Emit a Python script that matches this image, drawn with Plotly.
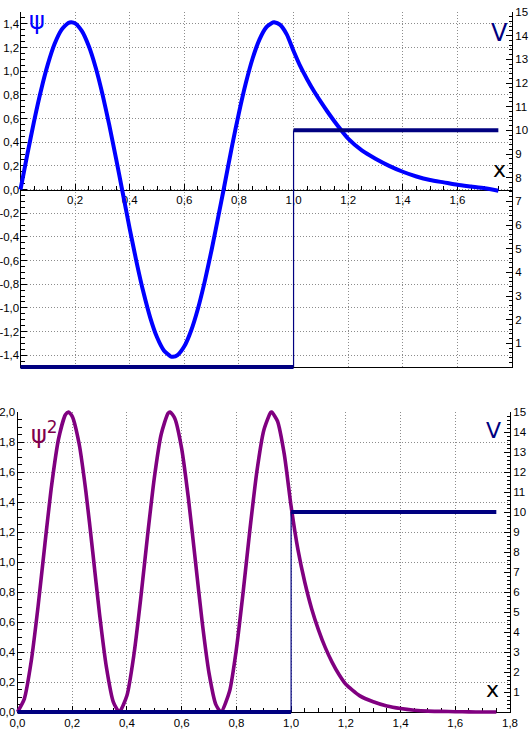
import plotly.graph_objects as go

# ---------------- data ----------------
x_vals = [0.0, 0.025, 0.05, 0.075, 0.1, 0.125, 0.15, 0.175, 0.186, 0.2, 0.225, 0.25, 0.275,
          0.3, 0.325, 0.35, 0.372, 0.4, 0.425, 0.45, 0.475, 0.5, 0.525, 0.55, 0.558, 0.575,
          0.6, 0.625, 0.65, 0.675, 0.7, 0.725, 0.744, 0.775, 0.8, 0.825, 0.85, 0.875,
          0.9, 0.925, 0.929, 0.95, 0.975, 1.0,
          1.025, 1.05, 1.075, 1.1, 1.125, 1.15, 1.175, 1.2,
          1.25, 1.3, 1.35, 1.4, 1.45, 1.5, 1.55, 1.6, 1.65, 1.7, 1.75]

psi_vals = [0.0, 0.296, 0.580, 0.837, 1.057, 1.231, 1.349, 1.408, 1.414, 1.404, 1.338, 1.212, 1.033,
            0.807, 0.546, 0.260, 0.0, -0.332, -0.613, -0.867, -1.082, -1.249, -1.360, -1.411, -1.414, -1.399,
            -1.325, -1.191, -1.005, -0.774, -0.509, -0.221, 0.0, 0.371, 0.648, 0.897, 1.107, 1.267,
            1.370, 1.413, 1.414, 1.393, 1.311, 1.171,
            1.04, 0.93, 0.83, 0.74, 0.655, 0.575, 0.50, 0.43,
            0.33, 0.26, 0.20, 0.15, 0.11, 0.08, 0.06, 0.04, 0.025, 0.01, -0.01]

psi2_vals = [0.0, 0.088, 0.336, 0.701, 1.117, 1.515, 1.820, 1.982, 2.0, 1.971, 1.790, 1.469, 1.067,
             0.651, 0.298, 0.068, 0.0, 0.110, 0.376, 0.752, 1.171, 1.560, 1.850, 1.991, 2.0, 1.957,
             1.756, 1.418, 1.010, 0.599, 0.259, 0.049, 0.0, 0.138, 0.420, 0.805, 1.225, 1.605,
             1.877, 1.997, 2.0, 1.940, 1.719, 1.371,
             1.082, 0.865, 0.689, 0.548, 0.429, 0.331, 0.250, 0.185,
             0.109, 0.068, 0.040, 0.023, 0.012, 0.006, 0.004, 0.002, 0.001, 0.0, 0.0]

# potential: V = 0 inside the well, V = 10 beyond the wall at x = 1
well_x = [0.0, 1.0]
well_v = [0, 0]
wall_x = [1.0, 1.0]
wall_v = [0, 10]
barrier_x = [1.0, 1.75]
barrier_v = [10, 10]

x_ticks_top = [0.2, 0.4, 0.6, 0.8, 1.0, 1.2, 1.4, 1.6]
x_ticks_top_text = ["0,2", "0,4", "0,6", "0,8", "1,0", "1,2", "1,4", "1,6"]
x_ticks_bot = [0.0, 0.2, 0.4, 0.6, 0.8, 1.0, 1.2, 1.4, 1.6, 1.8]
x_ticks_bot_text = ["0,0", "0,2", "0,4", "0,6", "0,8", "1,0", "1,2", "1,4", "1,6", "1,8"]
psi_ticks = [-1.4, -1.2, -1.0, -0.8, -0.6, -0.4, -0.2, 0.0, 0.2, 0.4, 0.6, 0.8, 1.0, 1.2, 1.4]
psi_ticks_text = ["-1,4", "-1,2", "-1,0", "-0,8", "-0,6", "-0,4", "-0,2", "0,0",
                  "0,2", "0,4", "0,6", "0,8", "1,0", "1,2", "1,4"]
psi2_ticks = [0.0, 0.2, 0.4, 0.6, 0.8, 1.0, 1.2, 1.4, 1.6, 1.8, 2.0]
psi2_ticks_text = ["0,0", "0,2", "0,4", "0,6", "0,8", "1,0", "1,2", "1,4", "1,6", "1,8", "2,0"]
v_ticks = [1, 2, 3, 4, 5, 6, 7, 8, 9, 10, 11, 12, 13, 14, 15]
v_ticks_text = [str(v) for v in v_ticks]

# ---------------- layout geometry (pixels) ----------------
W, H = 531, 734
P1 = dict(x0=20.5, x1=512.0, top=12.0, bot=367.0)
P2 = dict(x0=17.5, x1=510.0, top=412.0, bot=712.0)
PAD = 8.0
XR = [0.0, 1.8]
PSI_R = [-1.5, 1.5]
PSI2_R = [0.0, 2.0]
V_R = [0.0, 15.0]


def xdom(p, pad=0.0):
    return [(p["x0"] - pad) / W, (p["x1"] + pad) / W]


def ydom(p, pad=0.0):
    return [1 - (p["bot"] + pad) / H, 1 - (p["top"] - pad) / H]


def ext(r, npx, pad):
    per = (r[1] - r[0]) / npx
    return [r[0] - pad * per, r[1] + pad * per]


FONT = "Liberation Sans Narrow, Liberation Sans, Arial, sans-serif"
TICKFONT = dict(family=FONT, size=11.5, color="black")
GRID = dict(showgrid=True, gridcolor="#8c8c8c", gridwidth=1, griddash="1px,2px")
BLUE = "#0000ff"
NAVY = "#000080"
PURPLE = "#800080"


def vis_axis(**kw):
    d = dict(showline=True, linecolor="black", linewidth=1, ticks="inside", ticklen=6,
             tickcolor="black", tickwidth=1, tickfont=TICKFONT, zeroline=False,
             layer="below traces", fixedrange=True, tickmode="array", automargin=False)
    d.update(kw)
    return d


def hid_axis(**kw):
    d = dict(visible=False, showgrid=False, zeroline=False, fixedrange=True, automargin=False)
    d.update(kw)
    return d


fig = go.Figure()

# dummy traces so the visible axes form subplots
for xa, ya in [("x", "y"), ("x", "y2"), ("x5", "y"), ("x2", "y5"), ("x2", "y6")]:
    fig.add_trace(go.Scatter(x=[None], y=[None], xaxis=xa, yaxis=ya, showlegend=False,
                             hoverinfo="skip", mode="lines"))

# ---- panel 1 drawing (hidden, slightly extended axes so lines are not clipped) ----
fig.add_trace(go.Scatter(x=well_x, y=well_v, xaxis="x3", yaxis="y4", mode="lines",
                         line=dict(color=NAVY, width=4), showlegend=False))
fig.add_trace(go.Scatter(x=wall_x, y=wall_v, xaxis="x3", yaxis="y4", mode="lines",
                         line=dict(color=NAVY, width=1.2), showlegend=False))
fig.add_trace(go.Scatter(x=barrier_x, y=barrier_v, xaxis="x3", yaxis="y4", mode="lines",
                         line=dict(color=NAVY, width=4), showlegend=False))
fig.add_trace(go.Scatter(x=x_vals, y=psi_vals, xaxis="x3", yaxis="y3", mode="lines",
                         line=dict(color=BLUE, width=4, shape="spline", smoothing=0.6),
                         showlegend=False))

# ---- panel 2 drawing ----
fig.add_trace(go.Scatter(x=well_x, y=well_v, xaxis="x4", yaxis="y8", mode="lines",
                         line=dict(color=NAVY, width=4), showlegend=False))
fig.add_trace(go.Scatter(x=wall_x, y=wall_v, xaxis="x4", yaxis="y8", mode="lines",
                         line=dict(color=NAVY, width=1.2), showlegend=False))
fig.add_trace(go.Scatter(x=barrier_x, y=barrier_v, xaxis="x4", yaxis="y8", mode="lines",
                         line=dict(color=NAVY, width=4), showlegend=False))
fig.add_trace(go.Scatter(x=x_vals, y=psi2_vals, xaxis="x4", yaxis="y7", mode="lines",
                         line=dict(color=PURPLE, width=3.6, shape="spline", smoothing=0.6),
                         showlegend=False))

minor_x = dict(tickmode="linear", tick0=0, dtick=0.05, ticks="inside", ticklen=4,
               tickcolor="black", showgrid=False)
minor_psi = dict(tickmode="linear", tick0=0, dtick=0.05, ticks="inside", ticklen=4,
                 tickcolor="black", showgrid=False)
minor_v = dict(tickmode="linear", tick0=0, dtick=0.2, ticks="inside", ticklen=3,
               tickcolor="black", showgrid=False)

p1_zero = 1 - (P1["top"] + (P1["bot"] - P1["top"]) / 2) / H

fig.update_layout(
    width=W, height=H, margin=dict(l=0, r=0, t=0, b=0, autoexpand=False),
    paper_bgcolor="white", plot_bgcolor="rgba(0,0,0,0)", showlegend=False,
    font=dict(family=FONT, size=12, color="black"),
    # panel 1 visible axes
    xaxis=vis_axis(domain=xdom(P1), range=XR, anchor="free", position=p1_zero, side="bottom",
                   tickvals=x_ticks_top, ticktext=x_ticks_top_text, minor=minor_x, **GRID),
    xaxis5=vis_axis(overlaying="x", anchor="y", side="bottom", range=XR, ticks="",
                    showticklabels=False, showgrid=False),
    yaxis=vis_axis(domain=ydom(P1), range=PSI_R, anchor="x", side="left",
                   tickvals=psi_ticks, ticktext=psi_ticks_text, minor=minor_psi,
                   ticklabelstandoff=-2, **GRID),
    yaxis2=vis_axis(overlaying="y", anchor="x", side="right", range=V_R,
                    tickvals=v_ticks, ticktext=v_ticks_text, minor=minor_v, showgrid=False),
    # panel 1 hidden drawing axes
    xaxis3=hid_axis(domain=xdom(P1, PAD), range=ext(XR, P1["x1"] - P1["x0"], PAD), anchor="y3"),
    yaxis3=hid_axis(domain=ydom(P1, PAD), range=ext(PSI_R, P1["bot"] - P1["top"], PAD), anchor="x3"),
    yaxis4=hid_axis(overlaying="y3", anchor="x3", range=ext(V_R, P1["bot"] - P1["top"], PAD)),
    # panel 2 visible axes
    xaxis2=vis_axis(domain=xdom(P2), range=XR, anchor="y5", side="bottom",
                    tickvals=x_ticks_bot, ticktext=x_ticks_bot_text, minor=minor_x, **GRID),
    yaxis5=vis_axis(domain=ydom(P2), range=PSI2_R, anchor="x2", side="left",
                    tickvals=psi2_ticks, ticktext=psi2_ticks_text, minor=minor_psi,
                    ticklabelstandoff=-1, **GRID),
    yaxis6=vis_axis(overlaying="y5", anchor="x2", side="right", range=V_R,
                    tickvals=v_ticks, ticktext=v_ticks_text, minor=minor_v, showgrid=False),
    # panel 2 hidden drawing axes
    xaxis4=hid_axis(domain=xdom(P2, PAD), range=ext(XR, P2["x1"] - P2["x0"], PAD), anchor="y7"),
    yaxis7=hid_axis(domain=ydom(P2, PAD), range=ext(PSI2_R, P2["bot"] - P2["top"], PAD), anchor="x4"),
    yaxis8=hid_axis(overlaying="y7", anchor="x4", range=ext(V_R, P2["bot"] - P2["top"], PAD)),
)


def label(text, px, py, color, size):
    fig.add_annotation(text=text, xref="paper", yref="paper", x=px / W, y=1 - py / H,
                       xanchor="center", yanchor="middle", showarrow=False,
                       font=dict(family="DejaVu Sans, sans-serif", size=size, color=color))


label("ψ", 37, 21, BLUE, 24)
label("V", 499, 33, NAVY, 24)
label("x", 499, 170, "black", 22)
label("ψ<sup>2</sup>", 44, 433, "#80004c", 24)
label("V", 493, 430, NAVY, 22)
label("x", 492, 689, "black", 22)

fig.write_html(
    "out.html",
    config={"displayModeBar": False},
    post_script="document.body.style.margin='0';document.body.style.padding='0';",
)
